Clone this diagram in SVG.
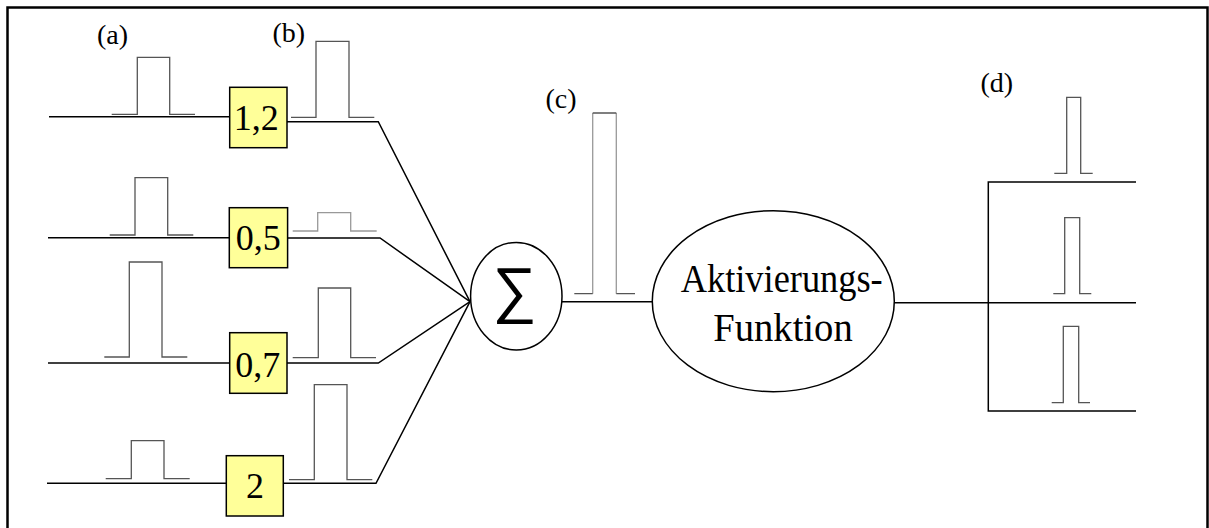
<svg xmlns="http://www.w3.org/2000/svg" width="1209" height="528" viewBox="0 0 1209 528">
<style>
.ln{fill:none;stroke:#000;stroke-width:1.5}
.p{fill:none;stroke:#555;stroke-width:1.3}
.pg{fill:none;stroke:#999;stroke-width:1.3}
.box{fill:#FFFF99;stroke:#000;stroke-width:1.5}
</style>
<rect x="7.5" y="7.5" width="1200" height="530" fill="#fff" stroke="#000" stroke-width="2.5"/>
<g id="labels" font-family="Liberation Serif, serif" font-size="28" fill="#000">
<text x="97" y="44">(a)</text>
<text x="272.5" y="42">(b)</text>
<text x="545.5" y="108">(c)</text>
<text x="980.5" y="91.7">(d)</text>
</g>
<g id="connectors">
<path class="ln" d="M49,116.7H230"/>
<path class="ln" d="M48,237.7H229"/>
<path class="ln" d="M48,363H230"/>
<path class="ln" d="M47,483.3H226"/>
<path class="ln" d="M287,121.7H378.3L470,301.7"/>
<path class="ln" d="M288,238H380L470,301.7"/>
<path class="ln" d="M287,363H378.3L470,301.7"/>
<path class="ln" d="M283.3,483.3H376L470,301.7"/>
<path class="ln" d="M562,301.7H653"/>
<path class="ln" d="M894,302.7H1136"/>
<path class="ln" d="M1136,182H988.3V411H1136"/>
</g>
<g id="pulses-a">
<path class="p" d="M111.7,114.3H137.3V57.3H169.7V114.3H195"/>
<path class="p" d="M109.7,235H135V177.7H167.7V235H193.3"/>
<path class="p" d="M104.3,357H129.3V262H162V357H187.3"/>
<path class="p" d="M105.7,478.7H131.3V440.7H164V478.7H189.7"/>
</g>
<g id="pulses-b">
<path class="p" d="M291,117.3H316V41.3H349V117.3H374.3"/>
<path class="pg" d="M292.7,231H317.7V212.7H350.7V231H376.7"/>
<path class="p" d="M292.7,357.7H318.3V288H350.7V357.7H376"/>
<path class="p" d="M289,479.7H314.3V384.7H347V479.7H372.3"/>
</g>
<g id="pulse-c">
<path class="pg" d="M592.7,293.7V113M616.3,113V293.7"/>
<path class="p" d="M574.3,293.7H592.7M592.7,113H616.3M616.3,293.7H635" stroke="#222"/>
</g>
<g id="pulses-d">
<path class="p" d="M1054.3,173.3H1066.7V97.3H1080.7V173.3H1092.7"/>
<path class="p" d="M1053.3,293.7H1064.7V217.7H1079.7V293.7H1091.3"/>
<path class="p" d="M1051.7,402.7H1063.3V326.3H1078.7V402.7H1090"/>
</g>
<g font-family="Liberation Serif, serif" font-size="36" fill="#000" text-anchor="middle">
<g id="w1"><rect class="box" x="229.7" y="87.3" width="57.3" height="60.4"/><text x="256.2" y="130">1,2</text></g>
<g id="w2"><rect class="box" x="229.3" y="207.7" width="58.3" height="60"/><text x="258.3" y="250">0,5</text></g>
<g id="w3"><rect class="box" x="229.7" y="332.7" width="57.3" height="60.6"/><text x="257.8" y="376.7">0,7</text></g>
<g id="w4"><rect class="box" x="226.3" y="455.7" width="57" height="60.3"/><text x="255" y="498.3">2</text></g>
</g>
<g id="sum">
<ellipse cx="516.3" cy="296.2" rx="45.7" ry="53.8" fill="#fff" stroke="#000" stroke-width="1.5"/>
<text x="514.5" y="311" font-family="Liberation Sans, sans-serif" font-size="62" text-anchor="middle">∑</text>
</g>
<g id="act" font-family="Liberation Serif, serif" font-size="40" fill="#000">
<ellipse cx="773.3" cy="301.2" rx="121" ry="90.5" fill="#fff" stroke="#000" stroke-width="1.5"/>
<text x="680.7" y="291.7" textLength="202" lengthAdjust="spacingAndGlyphs">Aktivierungs-</text>
<text x="713.3" y="340.7" textLength="139.4" lengthAdjust="spacingAndGlyphs">Funktion</text>
</g>
</svg>
